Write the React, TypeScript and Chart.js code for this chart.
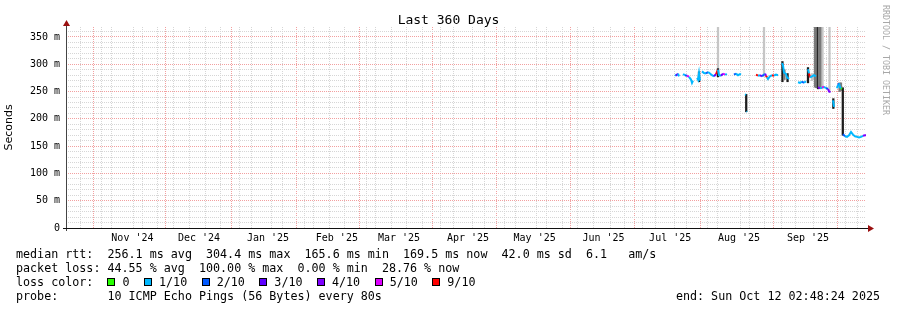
import React, { useEffect, useRef } from 'react';
import { Chart, registerables } from 'chart.js';

Chart.register(...registerables);

// ---- time frame ----
const START = Date.UTC(2024, 9, 17, 2, 48, 24);
const SPAN_DAYS = 360;
const DAY_MS = 86400000;
const Y_MAX = 368.3;

// ---- tick labels ----
const MONTH_LABELS = ["Nov '24", "Dec '24", "Jan '25", "Feb '25", "Mar '25", "Apr '25", "May '25", "Jun '25", "Jul '25", "Aug '25", "Sep '25"];
const Y_TICK_VALUES = [0, 10, 20, 30, 40, 50, 60, 70, 80, 90, 100, 110, 120, 130, 140, 150, 160, 170, 180, 190, 200, 210, 220, 230, 240, 250, 260, 270, 280, 290, 300, 310, 320, 330, 340, 350, 360];

// ---- median rtt (days since start, ms, lost pings of 10) ----
const MEDIAN_DAYS = [274.05, 274.5, 275.4, 275.85, 276.75, 277.65, 278.55, 279.45, 280.35, 281.25, 281.7, 282.15, 283.05, 283.95, 284.4, 284.85, 285.3, 286.2, 287.1, 288.0, 288.9, 289.8, 290.7, 291.6, 292.5, 293.4, 293.85, 294.75, 295.65, 296.55, 297.45, 298.8, 300.6, 301.5, 302.4, 303.3, 303.75, 304.65, 305.55, 306.0, 306.23, 306.45, 306.9, 310.5, 311.4, 312.3, 313.2, 314.1, 314.55, 315.0, 315.45, 315.9, 316.8, 317.7, 318.6, 319.5, 320.4, 321.3, 322.2, 322.65, 323.1, 324.0, 324.45, 325.35, 326.25, 329.4, 330.3, 331.2, 332.1, 333.0, 333.9, 334.35, 334.8, 335.7, 336.6, 337.5, 338.4, 339.3, 340.2, 341.1, 342.0, 342.9, 343.35, 344.03, 344.48, 345.15, 345.6, 346.05, 346.95, 347.4, 347.85, 348.3, 348.75, 349.2, 349.65, 350.55, 351.45, 352.35, 353.25, 354.15, 355.05, 355.95, 356.85, 357.75, 358.65, 359.55, 360.0];
const MEDIAN_MS = [281, 279, 283, 278, null, 282, 280, 279, 277, 272, 266, 270, null, 275, 272, 284, 270, 287, 284, 283, 286, 283, 280, 278, 282, 290, 280, 279, 283, 281, 282, null, 281, 283, 280, 282, 281, null, 245, 244, 214, 213, null, 281, 279, 280, 278, 281, 283, 279, 276, 273, 278, 280, 279, 281, 280, null, 302, 298, 285, 282, 276, 273, null, 267, 266, 268, 266, 269, 291, 283, 276, 278, 280, 278, 258, 256, 257, 259, 256, 255, 250, 249, null, 234, 222, null, 256, 262, 265, 258, 256, 255, 172, 168, 167, 170, 176, 171, 168, 167, 166, 167, 169, 170, 170];
const MEDIAN_LOSS = [9, 1, 3, 1, 0, 9, 1, 2, 5, 1, 1, 1, 0, 4, 1, 1, 1, 9, 1, 1, 2, 1, 1, 1, 3, 9, 1, 1, 3, 5, 1, 0, 1, 2, 1, 1, 1, 0, 1, 1, 1, 1, 0, 1, 9, 1, 3, 2, 1, 4, 9, 1, 1, 1, 9, 1, 1, 0, 4, 1, 1, 1, 1, 1, 0, 9, 1, 1, 2, 1, 2, 1, 9, 1, 1, 1, 3, 4, 1, 5, 1, 2, 4, 4, 0, 9, 1, 0, 1, 1, 2, 1, 1, 0, 2, 2, 1, 1, 1, 1, 1, 1, 1, 1, 1, 4, 4];

// ---- smoke (ping spread) ----
const SMOKE_DAYS = [284.85, 293.4, 293.4, 306.1, 314.1, 322.4, 323.3, 324.7, 333.9, 335.7, 336.6, 337.05, 337.6, 338.4, 338.85, 339.3, 339.75, 340.43, 343.58, 345.3, 348.1, 348.75, 349.56];
const SMOKE_LOW = [268, 277, 277, 213, 278, 268, 272, 268, 266, 270, 272, 258, 257, 255, 257, 256, 256, 255, 249, 219, 250, 252, 170];
const SMOKE_HIGH = [286, 400, 292, 245, 400, 305, 290, 283, 294, 283, 282, 400, 400, 400, 400, 400, 400, 400, 400, 237, 266, 266, 257];
const SMOKE_DENSITY = [2, 0, 2, 2, 0, 2, 1, 2, 2, 0, 0, 1, 1, 2, 1, 1, 1, 0, 0, 2, 1, 1, 2];

// ---- legend ----
const LOSS_LABELS = ['0', '1/10', '2/10', '3/10', '4/10', '5/10', '9/10'];
const LOSS_COLORS = ['#26ff00', '#00b8ff', '#0059ff', '#5e00ff', '#7e00ff', '#dd00ff', '#ff0000'];
const STATS_RTT = 'median rtt:  256.1 ms avg  304.4 ms max  165.6 ms min  169.5 ms now  42.0 ms sd  6.1   am/s';
const STATS_LOSS = 'packet loss: 44.55 % avg  100.00 % max  0.00 % min  28.76 % now';
const PROBE_TEXT = 'probe:       10 ICMP Echo Pings (56 Bytes) every 80s';
const END_TEXT = 'end: Sun Oct 12 02:48:24 2025';
const TITLE = 'Last 360 Days';
const Y_TITLE = 'Seconds';
const WATERMARK = 'RRDTOOL / TOBI OETIKER';

const SMOKE_SHADES = ['#c6c6c6', '#7a7a7a', '#1c1c1c'];
const MINOR_GRID = '#d6d6d6';
const MAJOR_GRID = '#f2a0a0';
const MONO = 'DejaVu Sans Mono';

function lossColor(loss: number): string {
  if (loss <= 0) return LOSS_COLORS[0];
  if (loss <= 5) return LOSS_COLORS[loss];
  return LOSS_COLORS[6];
}

function buildXTicks() {
  const items: { v: number; kind: number; label: string }[] = [];
  const endDay = SPAN_DAYS;
  for (let t = Date.UTC(2024, 9, 20); (t - START) / DAY_MS < endDay; t += 7 * DAY_MS) {
    items.push({ v: (t - START) / DAY_MS, kind: 0, label: '' });
  }
  for (let i = 0; i < 13; i++) {
    const d = (Date.UTC(2024, 10 + i, 1) - START) / DAY_MS;
    if (d > 0 && d < endDay) items.push({ v: d, kind: 1, label: '' });
  }
  MONTH_LABELS.forEach((lab, i) => {
    const d = (Date.UTC(2024, 10 + i, 16) - START) / DAY_MS;
    items.push({ v: d, kind: 2, label: lab });
  });
  items.sort((a, b) => a.v - b.v);
  return items;
}

const axesPlugin = {
  id: 'rrdAxes',
  afterDraw(chart: any) {
    const { ctx, chartArea } = chart;
    const { left, right, top, bottom } = chartArea;
    ctx.save();
    ctx.strokeStyle = '#444';
    ctx.lineWidth = 1;
    ctx.beginPath();
    ctx.moveTo(Math.round(left) + 0.5, bottom + 3);
    ctx.lineTo(Math.round(left) + 0.5, top - 3);
    ctx.stroke();
    ctx.strokeStyle = '#111';
    ctx.beginPath();
    ctx.moveTo(left - 3, Math.round(bottom) + 0.5);
    ctx.lineTo(right + 3, Math.round(bottom) + 0.5);
    ctx.stroke();
    ctx.fillStyle = '#9a1010';
    const lx = Math.round(left) + 0.5;
    ctx.beginPath();
    ctx.moveTo(lx - 3.5, top - 1);
    ctx.lineTo(lx + 3.5, top - 1);
    ctx.lineTo(lx, top - 7);
    ctx.closePath();
    ctx.fill();
    const by = Math.round(bottom) + 0.5;
    ctx.beginPath();
    ctx.moveTo(right + 2, by - 3.5);
    ctx.lineTo(right + 2, by + 3.5);
    ctx.lineTo(right + 8, by);
    ctx.closePath();
    ctx.fill();
    ctx.restore();
  },
};

export default function App() {
  const canvasRef = useRef<HTMLCanvasElement | null>(null);

  useEffect(() => {
    const canvas = canvasRef.current;
    if (!canvas) return;
    const xTicks = buildXTicks();

    const chart = new Chart(canvas, {
      type: 'line',
      data: {
        datasets: [
          {
            type: 'bar',
            label: 'smoke',
            data: SMOKE_DAYS.map((d, i) => ({ x: d, y: [SMOKE_LOW[i], SMOKE_HIGH[i]] })) as any,
            backgroundColor: (ctx: any) => SMOKE_SHADES[SMOKE_DENSITY[ctx.dataIndex]] ?? SMOKE_SHADES[0],
            borderWidth: 0,
            barThickness: 1.6,
            grouped: false,
            order: 2,
          } as any,
          {
            type: 'line',
            label: 'median rtt',
            data: MEDIAN_DAYS.map((d, i) => ({ x: d, y: MEDIAN_MS[i] })) as any,
            borderWidth: 2,
            borderColor: LOSS_COLORS[1],
            pointRadius: 0,
            pointHoverRadius: 0,
            spanGaps: false,
            tension: 0,
            borderCapStyle: 'butt',
            segment: {
              borderColor: (ctx: any) => {
                const a = ctx.p0.parsed.y;
                const b = ctx.p1.parsed.y;
                if (Math.abs(a - b) > 15) return 'rgba(0,0,0,0)';
                return lossColor(MEDIAN_LOSS[ctx.p1DataIndex]);
              },
            },
            order: 1,
          } as any,
        ],
      },
      options: {
        animation: false,
        responsive: false,
        devicePixelRatio: 1,
        events: [],
        layout: { padding: { left: 0, top: 27, right: 31, bottom: 62 } },
        plugins: { legend: { display: false }, tooltip: { enabled: false }, title: { display: false } },
        scales: {
          x: {
            type: 'linear',
            min: 0,
            max: SPAN_DAYS,
            offset: false,
            afterBuildTicks: (s: any) => {
              s.ticks = xTicks.map((t) => ({ value: t.v }));
            },
            afterFit: (s: any) => {
              s.height = 20;
              s.paddingLeft = 0;
              s.paddingRight = 0;
            },
            grid: {
              drawTicks: false,
              lineWidth: 1,
              color: (ctx: any) => {
                const t = xTicks[ctx.index];
                if (!t) return 'rgba(0,0,0,0)';
                return t.kind === 0 ? MINOR_GRID : t.kind === 1 ? MAJOR_GRID : 'rgba(0,0,0,0)';
              },
            },
            border: { display: false, dash: [1, 1] },
            ticks: {
              autoSkip: false,
              maxRotation: 0,
              minRotation: 0,
              padding: 4,
              color: '#000',
              font: { family: MONO, size: 10 },
              callback: (_v: any, i: number) => (xTicks[i] ? xTicks[i].label : ''),
            },
          },
          y: {
            type: 'linear',
            min: 0,
            max: Y_MAX,
            afterBuildTicks: (s: any) => {
              s.ticks = Y_TICK_VALUES.map((v) => ({ value: v }));
            },
            afterFit: (s: any) => {
              s.width = 66;
              s.paddingTop = 0;
              s.paddingBottom = 0;
            },
            grid: {
              drawTicks: false,
              lineWidth: 1,
              color: (ctx: any) => (ctx.tick && ctx.tick.value % 50 === 0 ? MAJOR_GRID : MINOR_GRID),
            },
            border: { display: false, dash: [1, 1] },
            title: {
              display: true,
              text: Y_TITLE,
              color: '#000',
              font: { family: 'DejaVu Sans', size: 11 },
              padding: { top: 3, bottom: 0 },
            },
            ticks: {
              autoSkip: false,
              padding: 6,
              color: '#000',
              font: { family: MONO, size: 10 },
              callback: (v: any) => {
                const n = Number(v);
                if (n % 50 !== 0) return '';
                return n === 0 ? '0' : `${n} m`;
              },
            },
          },
        },
      },
      plugins: [axesPlugin],
    } as any);

    return () => chart.destroy();
  }, []);

  const legendFont: React.CSSProperties = {
    fontFamily: MONO,
    fontSize: '11.7px',
    lineHeight: '14px',
    whiteSpace: 'pre',
    color: '#000',
  };

  return (
    <div style={{ position: 'fixed', left: 0, top: 0, width: 897, height: 310, background: '#fff', overflow: 'hidden' }}>
      <canvas ref={canvasRef} width={897} height={310} style={{ position: 'absolute', left: 0, top: 0, width: 897, height: 310 }} />
      <div
        style={{
          position: 'absolute',
          left: 0,
          top: 12,
          width: 897,
          textAlign: 'center',
          fontFamily: MONO,
          fontSize: '13px',
          lineHeight: '15px',
          color: '#000',
          whiteSpace: 'pre',
        }}
      >
        {TITLE}
      </div>
      <div
        style={{
          position: 'absolute',
          left: 881,
          top: 5,
          writingMode: 'vertical-rl',
          fontFamily: MONO,
          fontSize: '8.3px',
          lineHeight: '10px',
          color: '#a8a8a8',
          whiteSpace: 'pre',
        }}
      >
        {WATERMARK}
      </div>
      <div style={{ position: 'absolute', left: 16, top: 247, width: 870, ...legendFont }}>
        <div>{STATS_RTT}</div>
        <div>{STATS_LOSS}</div>
        <div>
          {'loss color:  '}
          {LOSS_LABELS.map((lab, i) => (
            <span key={lab} style={{ marginRight: i < LOSS_LABELS.length - 1 ? 14.5 : 0 }}>
              <span
                style={{
                  display: 'inline-block',
                  width: 8,
                  height: 8,
                  boxSizing: 'border-box',
                  border: '1px solid #000',
                  background: LOSS_COLORS[i],
                  marginRight: 7,
                  verticalAlign: 'baseline',
                }}
              />
              {lab}
            </span>
          ))}
        </div>
        <div style={{ position: 'relative' }}>
          {PROBE_TEXT}
          <span style={{ position: 'absolute', right: 6, top: 0 }}>{END_TEXT}</span>
        </div>
      </div>
    </div>
  );
}
